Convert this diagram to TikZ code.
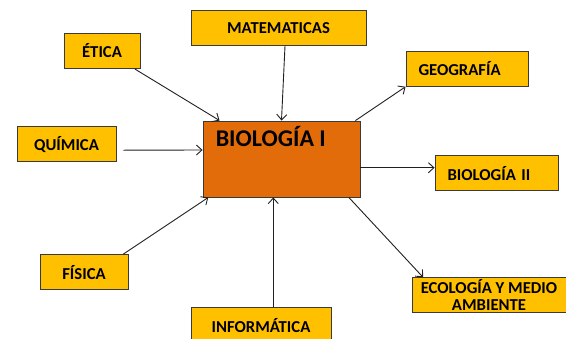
\documentclass[tikz,border=0pt]{standalone}
\usepackage{fontspec}
\setmainfont{Carlito}
\usepackage{tikz}
\usetikzlibrary{arrows.meta,calc}

\definecolor{amarillo}{HTML}{FFC000}
\definecolor{naranja}{HTML}{E36C0A}
\definecolor{borde}{HTML}{3A3A3A}

\tikzset{
  tema/.style={draw=borde, line width=0.9pt, fill=amarillo, minimum height=35pt,
    inner sep=0pt, font=\fontsize{16.7}{16.5}\selectfont\bfseries, align=center},
  izq/.style={align=left, text width=#1, inner xsep=12.5pt},
  centro/.style={draw=borde, line width=0.9pt, fill=naranja, minimum width=157pt,
    minimum height=76pt, inner sep=0pt},
  flecha/.style={draw=gray!25!black, line width=0.9pt, -{Straight Barb[length=5.5pt,width=10pt]}}
}

\begin{document}
\begin{tikzpicture}[x=1pt,y=-1pt]
\useasboundingbox (0,0) rectangle (566,338);

% nodo central
\node [centro, label={[anchor=base west, inner sep=0pt, font=\fontsize{24}{24}\selectfont\bfseries,
  xshift=13pt, yshift=-26.3pt]north west:BIOLOG\'IA I}] (bio) at (281.5,159) {};

% temas
\node [tema, minimum width=175pt] (mate) at (278.5,28) {MATEMATICAS};
\node [tema, minimum width=76pt] (etica) at (102,51) {\'ETICA};
\node [tema, izq=97pt] (geo) at (467,68.8) {GEOGRAF\'IA};
\node [tema, minimum width=99pt] (quim) at (66.5,144.2) {QU\'IMICA};
\node [tema, izq=98pt] (bio2) at (496.5,173.2) {BIOLOG\'IA II};
\node [tema, minimum width=88pt] (fis) at (84,272.2) {F\'ISICA};
\node [tema, minimum width=140pt, minimum height=36pt] (info) at (261,325.3) {INFORM\'ATICA};
\node [tema, minimum width=154pt] (eco) at (489,295.2) {ECOLOG\'IA Y MEDIO\\AMBIENTE};

% conectores
\draw[flecha] ([xshift=-5.7pt]etica.south east) -- ([xshift=17pt]bio.north west);
\draw[flecha] ([xshift=6.5pt]mate.south) -- (bio.north);
\draw[flecha] ([xshift=7pt,yshift=-6pt]quim.east) -- ([yshift=9pt]bio.west);
\draw[flecha] ([xshift=-5pt]bio.north east) -- (geo.south west);
\draw[flecha] ([yshift=-8.7pt]bio.east) -- ([yshift=5.5pt]bio2.west);
\draw[flecha] ([xshift=-11.6pt]bio.south east) -- ([xshift=11.5pt]eco.north west);
\draw[flecha] ([xshift=-5.3pt]fis.north east) -- ([xshift=5.7pt]bio.south west);
\draw[flecha] ([xshift=12.3pt]info.north) -- ([xshift=-8.2pt]bio.south);
\end{tikzpicture}
\end{document}
